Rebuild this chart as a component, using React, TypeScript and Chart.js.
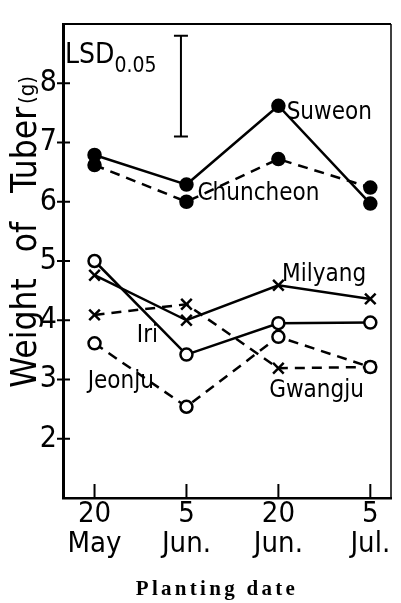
import React, { useEffect, useRef } from 'react';
import { Chart, registerables } from 'chart.js';
Chart.register(...registerables);

const dayLabels = ['20', '5', '20', '5'];
const monthLabels = ['May', 'Jun.', 'Jun.', 'Jul.'];
const yTickValues = [2, 3, 4, 5, 6, 7, 8];

const suweon = [6.79, 6.29, 7.62, 5.97];
const chuncheon = [6.62, 6.0, 6.72, 6.24];
const iri = [5.0, 3.42, 3.95, 3.96];
const jeonju = [3.61, 2.54, 3.72, 3.21];
const milyang = [4.76, 4.0, 4.59, 4.36];
const gwangju = [4.09, 4.27, 3.19, 3.21];

const lsdPosition = 0.94;
const lsdLow = 7.1;
const lsdHigh = 8.8;

const FONT = '"DejaVu Sans Condensed", "DejaVu Sans", sans-serif';

type Style = 'filled' | 'open' | 'cross';

function series(label: string, values: number[], dashed: boolean, style: Style) {
  return {
    label,
    data: values.map((y, i) => ({ x: i, y })),
    borderColor: '#000',
    backgroundColor: style === 'filled' ? '#000' : '#fff',
    pointBackgroundColor: style === 'filled' ? '#000' : '#fff',
    pointBorderColor: '#000',
    borderWidth: 2.5,
    borderDash: dashed ? [10, 7] : [],
    pointStyle: style === 'cross' ? 'crossRot' : 'circle',
    pointRadius: style === 'cross' ? 7.5 : 6,
    pointBorderWidth: 2.5,
    tension: 0,
    fill: false,
  };
}

const decor = {
  id: 'decor',
  afterDraw(chart: any) {
    const { ctx, chartArea: a, scales } = chart;
    const xs = scales.x;
    const ys = scales.y;
    const px = (v: number) => xs.getPixelForValue(v);
    const py = (v: number) => ys.getPixelForValue(v);
    ctx.save();
    ctx.strokeStyle = '#000';
    ctx.fillStyle = '#000';
    // top and right frame
    ctx.lineWidth = 2;
    ctx.beginPath();
    ctx.moveTo(a.left, a.top);
    ctx.lineTo(a.right, a.top);
    ctx.stroke();
    ctx.lineWidth = 1.5;
    ctx.beginPath();
    ctx.moveTo(a.right, a.top);
    ctx.lineTo(a.right, a.bottom);
    ctx.stroke();
    // tick marks
    ctx.lineWidth = 2;
    dayLabels.forEach((_, i) => {
      const x = px(i);
      ctx.beginPath();
      ctx.moveTo(x, a.bottom);
      ctx.lineTo(x, a.bottom - 14);
      ctx.stroke();
    });
    yTickValues.forEach((v) => {
      const y = py(v);
      ctx.beginPath();
      ctx.moveTo(a.left - 6, y);
      ctx.lineTo(a.left + 7, y);
      ctx.stroke();
    });
    // LSD bar
    const lx = px(lsdPosition);
    const ly1 = py(lsdHigh);
    const ly2 = py(lsdLow);
    ctx.lineWidth = 2;
    ctx.beginPath();
    ctx.moveTo(lx, ly1);
    ctx.lineTo(lx, ly2);
    ctx.moveTo(lx - 7, ly1);
    ctx.lineTo(lx + 7, ly1);
    ctx.moveTo(lx - 7, ly2);
    ctx.lineTo(lx + 7, ly2);
    ctx.stroke();
    // LSD label
    ctx.textBaseline = 'alphabetic';
    ctx.textAlign = 'left';
    ctx.font = `28px ${FONT}`;
    const lsdL = a.left + 2;
    const lsdB = 63;
    ctx.fillText('LSD', lsdL, lsdB);
    const w = ctx.measureText('LSD').width;
    ctx.font = `21px ${FONT}`;
    ctx.fillText('0.05', lsdL + w, lsdB + 9);
    // station labels
    ctx.font = `24px ${FONT}`;
    const labels: [string, number, number][] = [
      ['Suweon', 2.09, 7.4],
      ['Chuncheon', 1.12, 6.03],
      ['Milyang', 2.04, 4.67],
      ['Iri', 0.46, 3.63],
      ['Jeonju', -0.075, 2.86],
      ['Gwangju', 1.9, 2.71],
    ];
    labels.forEach(([t, x, y]) => ctx.fillText(t, px(x), py(y)));
    // y title (words spaced as in the original)
    ctx.save();
    ctx.translate(36, 0);
    ctx.rotate(-Math.PI / 2);
    ctx.textBaseline = 'alphabetic';
    ctx.textAlign = 'center';
    const words: [string, number, number][] = [
      ['Weight', 333, 35],
      ['of', 237, 35],
      ['Tuber', 150, 35],
      ['(g)', 90, 22],
    ];
    words.forEach(([t, c, s]) => {
      ctx.font = `${s}px ${FONT}`;
      ctx.fillText(t, -c, t === '(g)' ? -2 : 0);
    });
    ctx.restore();
    // x title
    ctx.font = `bold 21px "Liberation Serif", serif`;
    (ctx as any).letterSpacing = '3.3px';
    ctx.textAlign = 'center';
    ctx.textBaseline = 'middle';
    ctx.fillText('Planting date', 217, 590);
    ctx.restore();
  },
};

export default function App() {
  const ref = useRef<HTMLCanvasElement>(null);
  useEffect(() => {
    if (!ref.current) return;
    const chart = new Chart(ref.current, {
      type: 'line',
      data: {
        datasets: [
          series('Suweon', suweon, false, 'filled'),
          series('Chuncheon', chuncheon, true, 'filled'),
          series('Iri', iri, false, 'open'),
          series('Jeonju', jeonju, true, 'open'),
          series('Milyang', milyang, false, 'cross'),
          series('Gwangju', gwangju, true, 'cross'),
        ] as any,
      },
      options: {
        animation: false,
        responsive: false,
        devicePixelRatio: 1,
        layout: { padding: { left: 0, top: 8, right: 5, bottom: 0 } },
        plugins: { legend: { display: false }, tooltip: { enabled: false } },
        scales: {
          x: {
            type: 'linear',
            min: -0.343,
            max: 3.225,
            afterBuildTicks: (s: any) => {
              s.ticks = dayLabels.map((_, i) => ({ value: i }));
            },
            afterFit: (s: any) => {
              s.height = 105;
            },
            grid: { display: false, drawTicks: false },
            border: { display: true, color: '#000', width: 2.5 },
            ticks: {
              padding: 2,
              color: '#000',
              maxRotation: 0,
              autoSkip: false,
              font: { family: FONT, size: 29, lineHeight: 1.03 },
              callback: (v: any) => [dayLabels[v], monthLabels[v]],
            },
          },
          y: {
            type: 'linear',
            min: 1,
            max: 9,
            afterBuildTicks: (s: any) => {
              s.ticks = yTickValues.map((v) => ({ value: v }));
            },
            afterFit: (s: any) => {
              s.width = 63;
            },
            grid: { display: false, drawTicks: false },
            border: { display: true, color: '#000', width: 3 },
            ticks: {
              padding: 6,
              color: '#000',
              font: { family: FONT, size: 30 },
              callback: (v: any) => String(v),
            },
          },
        },
      } as any,
      plugins: [decor],
    });
    return () => chart.destroy();
  }, []);
  return (
    <div style={{ position: 'absolute', left: 0, top: 0, width: 401, height: 603, background: '#fff' }}>
      <canvas ref={ref} width={401} height={603} style={{ width: 401, height: 603, display: 'block' }} />
    </div>
  );
}
